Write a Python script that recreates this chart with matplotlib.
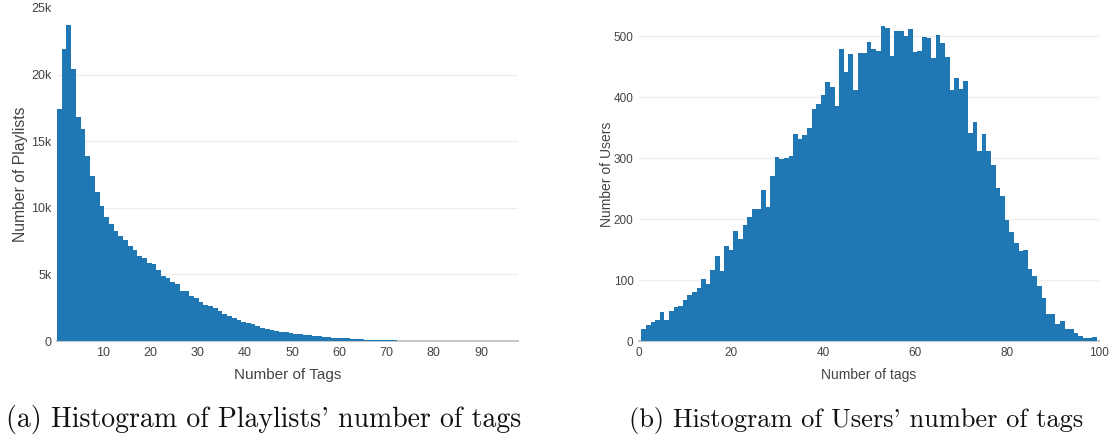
import numpy as np
import matplotlib
matplotlib.use("Agg")
import matplotlib.pyplot as plt

# (a) playlists: number of playlists per tag count (tag counts 1..77)
playlist_tags = np.arange(1, 78)
playlist_counts = [
    17400, 21900, 23750, 20400, 16850, 15950, 13900, 12350, 11200, 10150,
    9280, 8780, 8280, 7870, 7580, 7100, 6850, 6380, 6220, 5860,
    5780, 5330, 4880, 4730, 4430, 4280, 3780, 3720, 3350, 3200,
    2950, 2680, 2620, 2450, 2230, 2020, 1880, 1700, 1560, 1420,
    1330, 1270, 1130, 980, 880, 790, 750, 700, 650, 600,
    550, 500, 450, 420, 380, 350, 320, 290, 260, 240,
    210, 190, 170, 150, 130, 110, 95, 80, 70, 60,
    50, 40, 35, 30, 25, 20, 15,
]

# (b) users: number of users per tag count (tag counts 1..99)
user_tags = np.arange(1, 100)
user_counts = [
    20, 26, 31, 35, 47, 34, 50, 55, 57, 67,
    75, 81, 87, 101, 93, 116, 140, 115, 155, 150,
    181, 167, 191, 204, 216, 216, 248, 219, 270, 302,
    299, 300, 304, 339, 332, 338, 349, 380, 389, 404,
    424, 417, 385, 479, 441, 471, 412, 472, 473, 490,
    479, 475, 516, 514, 468, 508, 508, 500, 511, 474,
    476, 499, 497, 464, 501, 488, 466, 411, 432, 414,
    426, 341, 359, 311, 339, 312, 289, 251, 238, 199,
    178, 160, 148, 149, 118, 107, 91, 70, 44, 44,
    28, 33, 19, 19, 13, 9, 5, 5, 7,
]

left_yticks = [0, 5000, 10000, 15000, 20000, 25000]
left_yticklabels = ["0", "5k", "10k", "15k", "20k", "25k"]
left_xticks = [10, 20, 30, 40, 50, 60, 70, 80, 90]
right_yticks = [0, 100, 200, 300, 400, 500]
right_xticks = [0, 20, 40, 60, 80, 100]

BAR = "#1f77b4"
TXT = "#444444"
GRID = "#eeeeee"
AXLINE = "#c8c8c8"

plt.rcParams["font.family"] = ["Liberation Sans", "DejaVu Sans"]

fig = plt.figure(figsize=(11.10, 4.34), dpi=100)
fig.patch.set_facecolor("white")

ax1 = fig.add_axes([57 / 1110, 93 / 434, 461 / 1110, 333 / 434])
ax2 = fig.add_axes([639 / 1110, 93 / 434, 460 / 1110, 333 / 434])


def style(ax, yticks, xticks, fs, grid_at):
    ax.set_yticks(yticks)
    ax.set_xticks(xticks)
    ax.tick_params(length=0, labelsize=fs, colors=TXT, pad=4)
    ax.set_axisbelow(True)
    for y in grid_at:
        ax.axhline(y, color=GRID, lw=1, zorder=0)
    for s in ("top", "right", "left"):
        ax.spines[s].set_visible(False)
    ax.spines["bottom"].set_color(AXLINE)
    ax.spines["bottom"].set_linewidth(1.5)
    ax.spines["bottom"].set_zorder(1)


# left: bins of width 1 that start a quarter unit above the previous count
ax1.bar(playlist_tags - 0.75, playlist_counts, width=1.0, align="edge",
        color=BAR, lw=0, zorder=3)
ax1.set_xlim(0.25, 97.8)
ax1.set_ylim(0, 25000)
style(ax1, left_yticks, left_xticks, 9, left_yticks[1:-1])
ax1.set_yticklabels(left_yticklabels)
ax1.set_xlabel("Number of Tags", fontsize=11, color=TXT, labelpad=7)
ax1.set_ylabel("Number of Playlists", fontsize=11.3, color=TXT, labelpad=2)

ax2.bar(user_tags, user_counts, width=1.0, color=BAR, lw=0, zorder=3)
ax2.set_xlim(0, 100)
ax2.set_ylim(0, 546)
style(ax2, right_yticks, right_xticks, 8.5, right_yticks[1:])
ax2.set_xlabel("Number of tags", fontsize=10, color=TXT, labelpad=7)
ax2.set_ylabel("Number of Users", fontsize=10, color=TXT, labelpad=0)

fig.text(264 / 1110, 1 - 427 / 434, "(a) Histogram of Playlists' number of tags",
         family="cmr10", fontsize=20, ha="center", va="baseline", color="#111111")
fig.text(856 / 1110, 1 - 427 / 434, "(b) Histogram of Users' number of tags",
         family="cmr10", fontsize=19, ha="center", va="baseline", color="#111111")

fig.savefig("out.png", facecolor="white")
